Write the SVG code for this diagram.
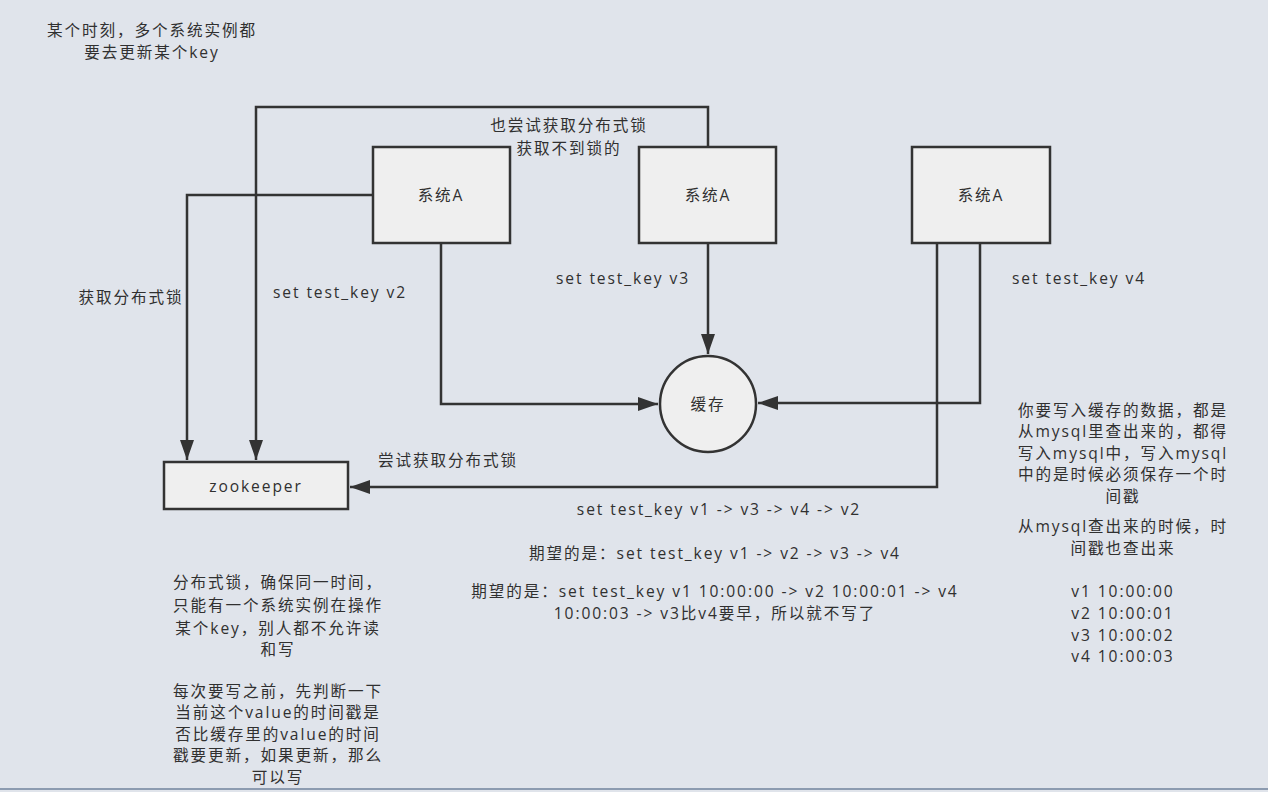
<svg xmlns="http://www.w3.org/2000/svg" width="1268" height="792" viewBox="0 0 1268 792">
<defs>
<style>
text{font-family:"Open Sans","Noto Sans CJK SC",sans-serif;font-size:15.6px;fill:#303030;letter-spacing:1.9px;text-anchor:middle}
.box{fill:#efefef;stroke:#333;stroke-width:2.5}
.ln{fill:none;stroke:#333;stroke-width:2.5}
</style>
<marker id="arr" markerUnits="userSpaceOnUse" markerWidth="22" markerHeight="14" refX="20" refY="7" orient="auto">
<path d="M0,0 L20,7 L0,14 Z" fill="#333"/>
</marker>
</defs>
<rect width="1268" height="792" fill="#e0e4eb"/>
<line x1="0" y1="789" x2="1268" y2="789" stroke="#8c9bb0" stroke-width="2"/>
<g id="connectors">
<polyline class="ln" points="373,195 187,195 187,460" marker-end="url(#arr)"/>
<polyline class="ln" points="708,147 708,107 256,107 256,460" marker-end="url(#arr)"/>
<polyline class="ln" points="441,243 441,404 658,404" marker-end="url(#arr)"/>
<polyline class="ln" points="708,243 708,354" marker-end="url(#arr)"/>
<polyline class="ln" points="980,243 980,403 758,403" marker-end="url(#arr)"/>
<polyline class="ln" points="937,243 937,487 350,487" marker-end="url(#arr)"/>
</g>
<g id="labels">
<text x="152" y="36">某个时刻，多个系统实例都</text>
<text x="152" y="58">要去更新某个key</text>
<text x="569" y="131">也尝试获取分布式锁</text>
<text x="569" y="154">获取不到锁的</text>
<text x="131" y="303">获取分布式锁</text>
<text x="340" y="298">set test_key v2</text>
<text x="623" y="284">set test_key v3</text>
<text x="1079" y="284">set test_key v4</text>
<text x="448" y="466">尝试获取分布式锁</text>
<text x="719" y="515">set test_key v1 -&gt; v3 -&gt; v4 -&gt; v2</text>
<text x="715" y="559">期望的是：set test_key v1 -&gt; v2 -&gt; v3 -&gt; v4</text>
<text x="715" y="597">期望的是：set test_key v1 10:00:00 -&gt; v2 10:00:01 -&gt; v4</text>
<text x="715" y="619">10:00:03 -&gt; v3比v4要早，所以就不写了</text>
<text x="1123" y="416">你要写入缓存的数据，都是</text>
<text x="1123" y="437">从mysql里查出来的，都得</text>
<text x="1123" y="459">写入mysql中，写入mysql</text>
<text x="1123" y="480">中的是时候必须保存一个时</text>
<text x="1123" y="502">间戳</text>
<text x="1123" y="532">从mysql查出来的时候，时</text>
<text x="1123" y="554">间戳也查出来</text>
<text x="1123" y="597">v1 10:00:00</text>
<text x="1123" y="619">v2 10:00:01</text>
<text x="1123" y="641">v3 10:00:02</text>
<text x="1123" y="662">v4 10:00:03</text>
<text x="278" y="588">分布式锁，确保同一时间，</text>
<text x="278" y="611">只能有一个系统实例在操作</text>
<text x="278" y="634">某个key，别人都不允许读</text>
<text x="278" y="655">和写</text>
<text x="278" y="697">每次要写之前，先判断一下</text>
<text x="278" y="718">当前这个value的时间戳是</text>
<text x="278" y="740">否比缓存里的value的时间</text>
<text x="278" y="761">戳要更新，如果更新，那么</text>
<text x="278" y="783">可以写</text>
</g>
<g id="sysA1"><rect class="box" x="373" y="147" width="137" height="96"/><text x="441" y="201">系统A</text></g>
<g id="sysA2"><rect class="box" x="639" y="147" width="137" height="96"/><text x="708" y="201">系统A</text></g>
<g id="sysA3"><rect class="box" x="912" y="147" width="138" height="96"/><text x="981" y="201">系统A</text></g>
<g id="cache"><circle class="box" cx="708" cy="404" r="48"/><text x="708" y="410">缓存</text></g>
<g id="zookeeper"><rect class="box" x="164" y="462" width="184" height="47"/><text x="256" y="492">zookeeper</text></g>
</svg>
